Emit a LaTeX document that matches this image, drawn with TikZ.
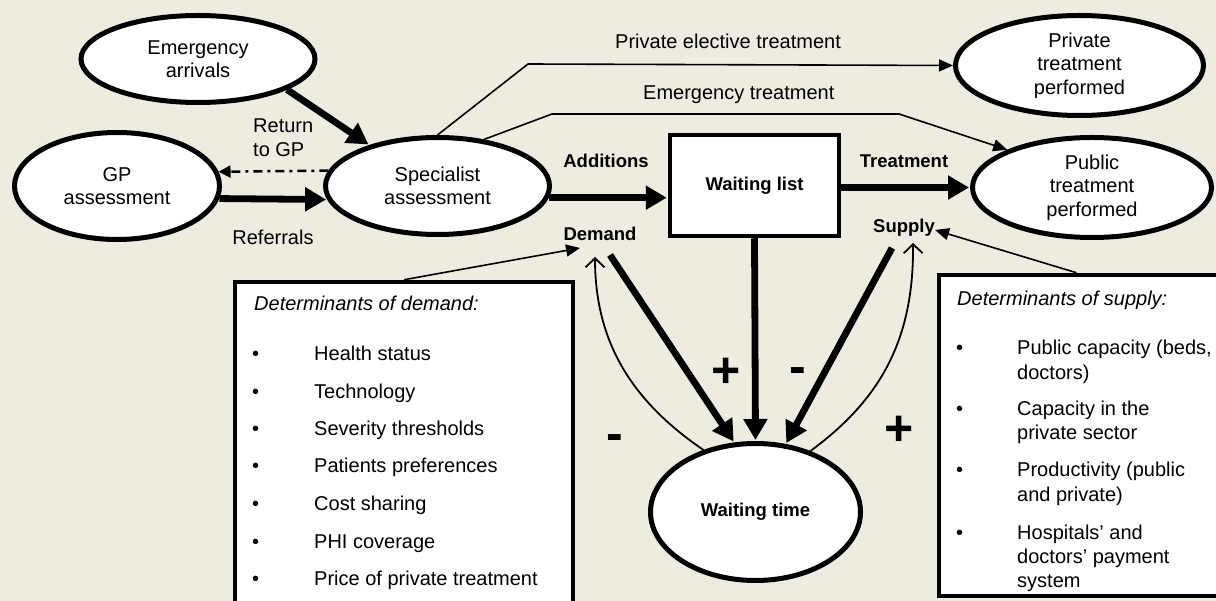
\documentclass[tikz,border=0pt]{standalone}
\usepackage{fontspec}
\setmainfont{Liberation Sans}
\usetikzlibrary{arrows.meta,shapes.geometric,calc}
\definecolor{bg}{HTML}{EEECE1}
\begin{document}
\begin{tikzpicture}[x=1pt,y=-1pt,
  txt/.style={inner sep=0pt, font=\fontsize{20}{24}\selectfont},
  lbl/.style={inner sep=0pt, font=\fontsize{18.5}{22}\selectfont\bfseries},
  sign/.style={inner sep=0pt, font=\fontsize{50}{50}\selectfont\bfseries},
  ell/.style={draw, line width=5pt, fill=white, ellipse, inner sep=0pt, align=center, font=\fontsize{20}{23.5}\selectfont},
  wbox/.style={draw, line width=4.5pt, fill=white, rectangle, inner sep=0pt, font=\fontsize{18.5}{22}\selectfont\bfseries},
  detbox/.style={draw, line width=4.5pt, fill=white, rectangle, inner sep=0pt},
  bigarrow/.style={line width=6.8pt, -{Triangle[length=21pt,width=23pt]}, shorten >=1pt},
  thinarrow/.style={line width=1.6pt, -{Triangle[length=14pt,width=12pt]}},
  veearrow/.style={line width=1.8pt, -{Straight Barb[length=9pt,width=19pt]}},
  dashdotarrow/.style={line width=2.5pt, dash pattern=on 9pt off 5pt on 3pt off 5pt, -{Triangle[length=12pt,width=12pt]}}
]
\fill[bg] (0,0) rectangle (1216,601);
\useasboundingbox (0,0) rectangle (1216,601);
\clip (0,0) rectangle (1216,601);

% boxes of determinants
\node[detbox, minimum width=338pt, minimum height=340pt] (dbox) at (404,452) {};
\node[detbox, minimum width=291pt, minimum height=321pt] (sbox) at (1084.5,435.5) {};

% ellipses and box
\node[ell, minimum width=234pt, minimum height=87pt] (em) at (198,59) {Emergency\\arrivals};
\node[ell, minimum width=205pt, minimum height=107pt] (gp) at (117,186) {GP\\assessment};
\node[ell, minimum width=224pt, minimum height=97pt] (spec) at (437.5,186) {Specialist\\assessment};
\node[ell, minimum width=248pt, minimum height=100pt] (priv) at (1079.5,65.5) {Private\\treatment\\performed};
\node[ell, minimum width=239pt, minimum height=100pt] (pub) at (1092,187.5) {Public\\treatment\\performed};
\node[ell, minimum width=210pt, minimum height=137pt, font=\fontsize{18.5}{22}\selectfont\bfseries] (wt) at (755.5,512) {Waiting time};
\node[wbox, minimum width=169pt, minimum height=101pt] (wl) at (754.5,185.5) {Waiting list};

% labels
\node[lbl] (add) at (606,161) {Additions};
\node[lbl] (dem) at (600,234) {Demand};
\node[lbl] (trt) at (904,161) {Treatment};
\node[lbl] (sup) at (904,228) {Supply};
\node[txt, align=left, anchor=west] (ret) at (253,137.5) {Return\\to GP};
\node[txt] (ref) at (273,237) {Referrals};
\node[txt, anchor=base west] (pel) at (615,49) {Private elective treatment};
\node[txt, anchor=base west] (emt) at (643,100) {Emergency treatment};

% signs
\node[sign] (p1) at (726,373) {+};
\node[sign] (m1) at (798,376) {-};
\node[sign] (m2) at (615,443) {-};
\node[sign] (p2) at (899,431) {+};

% corner coordinates
\coordinate (c1) at (528,64);
\coordinate (c2) at (552,114);
\coordinate (c3) at (899,114);

% connectors
\draw[bigarrow] (em.-19) -- (spec.149);
\draw[dashdotarrow] (spec.172) -- (gp.8);
\draw[bigarrow] (gp.-7.5) -- (spec.187);
\draw[bigarrow] (spec.-6) -- (spec.-6 -| wl.west);
\draw[bigarrow] (pub.west -| wl.east) -- (pub.west);
\draw[thinarrow] (spec.north) -- (c1) -- (priv.west);
\draw[thinarrow] (spec.45) -- (c2) -- (c3) -- (pub.156);
\draw[thinarrow] (dbox.north) -- ([shift={(-20,14)}]dem.center);
\draw[thinarrow] ([shift={(-8,0)}]sbox.north) -- ([shift={(31,2)}]sup.center);
\draw[veearrow] (wt.130.6) .. controls (630,400) and (595,340) .. ([shift={(-5,23)}]dem.center);
\draw[veearrow] (wt.48) .. controls (880,400) and (914,340) .. ([shift={(9,15)}]sup.center);
\draw[bigarrow] ([shift={(10,21)}]dem.center) -- (wt.107);
\draw[bigarrow] (wl.south) -- (wt.north);
\draw[bigarrow] ([shift={(-12,20)}]sup.center) -- (wt.66);

% determinants of demand
\node[txt, anchor=base west] (dh) at (254,311) {\itshape Determinants of demand:};
\foreach \y/\t [count=\i] in {361/Health status, 398.5/Technology, 436/Severity thresholds, 473/Patients preferences, 510.5/Cost sharing, 548/PHI coverage, 585/Price of private treatment}{
  \node[txt, anchor=base west] (db\i) at (252,\y) {•};
  \node[txt, anchor=base west] (dt\i) at (314,\y) {\t};
}

% determinants of supply
\node[txt, anchor=base west] (sh) at (957,306) {\itshape Determinants of supply:};
\foreach \y [count=\i] in {355,416,477,539}{
  \node[txt, anchor=base west] (sb\i) at (956,\y) {•};
}
\foreach \y/\t [count=\i] in {355/{Public capacity (beds,}, 380/doctors), 416/Capacity in the, 440/private sector, 477/Productivity (public, 501/and private), 539/Hospitals’ and, 563/doctors’ payment, 587/system}{
  \node[txt, anchor=base west] (st\i) at (1017,\y) {\t};
}
\end{tikzpicture}
\end{document}
